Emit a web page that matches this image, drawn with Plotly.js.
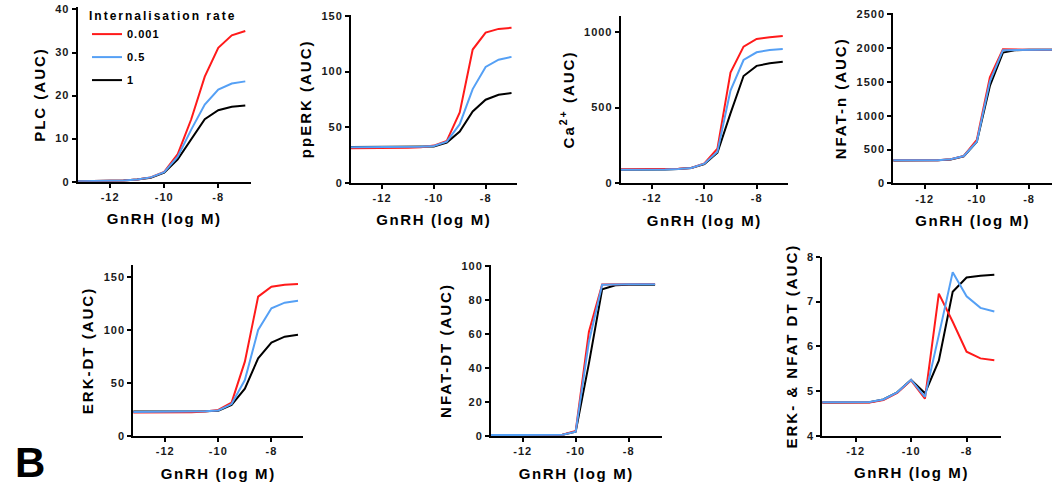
<!DOCTYPE html>
<html>
<head>
<meta charset="utf-8">
<script src="https://cdn.plot.ly/plotly-3.0.1.min.js"></script>
<style>
html,body{margin:0;padding:0;background:#fff;}
#chart{width:1052px;height:488px;}
text{letter-spacing:1px;}
text[class^="y"][class$="title"]{letter-spacing:2px;}
text[class^="x"][class$="title"]{letter-spacing:1.6px;}
text.legendtitletext{letter-spacing:2px;}
</style>
</head>
<body>
<div id="chart"></div>
<script>
// ---- data ----
const dose = [-13.5,-13,-12.5,-12,-11.5,-11,-10.5,-10,-9.5,-9,-8.5,-8,-7.5,-7];
const seriesNames = ['0.001','0.5','1'];
const seriesColors = ['#ff1a1a','#55a0f5','#000000'];
const xTickVals = [-12,-10,-8];
const xTickText = ['-12','-10','-8'];

const plc_0001 = [0.1,0.1,0.15,0.2,0.3,0.5,1.0,2.3,6.4,14.5,24.4,31.1,34.0,35.0];
const plc_05   = [0.1,0.1,0.15,0.2,0.3,0.5,1.0,2.2,5.8,12.1,17.9,21.4,22.8,23.3];
const plc_1    = [0.1,0.1,0.15,0.2,0.3,0.5,0.9,2.1,5.2,9.8,14.5,16.6,17.4,17.7];

const pperk_0001 = [31,31,31,31,31,31.5,32,33.4,37.7,63.3,119.9,135.2,138.5,139.5];
const pperk_05   = [32,32,32,32,32,32,32.3,33,37,52.7,84.3,104.2,110.8,113.3];
const pperk_1    = [32,32,32,32,32,32,32.2,32.5,36.1,46.1,64.2,74.7,79.2,80.7];

const ca_0001 = [90,90,90,90,91,94,100,130,228,732,905,956,967,976];
const ca_05   = [88,88,88,88,90,93,100,128,208,613,816,867,883,889];
const ca_1    = [88,88,88,88,90,93,99,125,201,462,710,777,794,805];

const nfatn_0001 = [340,340,340,340,342,355,404,641,1568,1982,1975,1975,1975,1975];
const nfatn_05   = [340,340,340,340,342,355,404,616,1504,1970,1975,1975,1975,1975];
const nfatn_1    = [338,338,338,338,340,352,400,616,1440,1933,1970,1975,1975,1975];

const erkdt_0001 = [22,22,22,22,22,22.3,23,24.5,31.4,70,131.2,140.6,142.5,143.1];
const erkdt_05   = [22.5,22.5,22.5,22.5,22.5,22.6,23.2,24,30.1,52.7,99.8,120.2,125.5,127.4];
const erkdt_1    = [23,23,23,23,23,23,23.3,23.8,29.2,44.6,73.1,87.9,93.5,95.4];

const nfatdt_0001 = [0.5,0.5,0.5,0.5,0.5,0.5,0.8,2.9,61.4,89.2,89.4,89.4,89.4,89.4];
const nfatdt_05   = [0.5,0.5,0.5,0.5,0.5,0.5,0.7,2.5,55.5,89.0,89.3,89.3,89.3,89.3];
const nfatdt_1    = [0.5,0.5,0.5,0.5,0.5,0.5,0.7,2.5,42.7,86.3,88.7,89.0,89.0,89.0];

const both_0001 = [4.74,4.74,4.74,4.74,4.745,4.80,4.96,5.24,4.83,7.18,6.55,5.88,5.73,5.69];
const both_05   = [4.75,4.75,4.75,4.75,4.755,4.81,4.97,5.25,4.87,6.25,7.66,7.12,6.86,6.78];
const both_1    = [4.74,4.74,4.74,4.74,4.75,4.81,4.97,5.25,4.95,5.68,7.22,7.54,7.58,7.60];

const yTitles = ['PLC (AUC)','ppERK (AUC)','Ca<sup>2+</sup> (AUC)','NFAT-n (AUC)','ERK-DT (AUC)','NFAT-DT (AUC)','ERK- & NFAT DT (AUC)'];
const xTitle = 'GnRH (log M)';
const legendTitle = 'Internalisation rate';
const panelLabel = 'B';

const panelData = [
  [plc_0001, plc_05, plc_1],
  [pperk_0001, pperk_05, pperk_1],
  [ca_0001, ca_05, ca_1],
  [nfatn_0001, nfatn_05, nfatn_1],
  [erkdt_0001, erkdt_05, erkdt_1],
  [nfatdt_0001, nfatdt_05, nfatdt_1],
  [both_0001, both_05, both_1]
];

// ---- layout (pixel geometry) ----
const W = 1052, H = 488;
const geom = [
  {x0:77.7, x1:250.7, y0:7.3,  y1:181.7, xr:[-13.2,-6.8],  yr:[0,40.5],  dt:10,  ys:6},
  {x0:351,  x1:516.7, y0:15,   y1:182.7, xr:[-13.2,-6.8],  yr:[0,151],   dt:50,  ys:6},
  {x0:620.7,x1:788,   y0:16,   y1:183,   xr:[-13.2,-6.8],  yr:[0,1108],  dt:500, ys:6},
  {x0:893.3,x1:1052,  y0:13.3, y1:183.3, xr:[-13.2,-7.12], yr:[0,2515],  dt:500, ys:6},
  {x0:133.3,x1:303.3, y0:265,  y1:436,   xr:[-13.2,-6.8],  yr:[0,161],   dt:50,  ys:6},
  {x0:491,  x1:661.7, y0:265,  y1:436,   xr:[-13.2,-6.75], yr:[0,100.6], dt:20,  ys:6},
  {x0:822.3,x1:1000.7,y0:256.5,y1:435.7, xr:[-13.2,-6.77], yr:[4,8.01],  dt:1,   ys:6}
];

const fontFam = '"Liberation Sans", Arial, sans-serif';
const tickFont = {family: fontFam, size: 11, color: '#1a1a1a', weight: 'bold'};
const titleFont = {family: fontFam, size: 15, color: '#000', weight: 'bold'};

const traces = [];
const drawOrder = [2, 0, 1]; // black, red, blue
panelData.forEach((ser, i) => {
  const sfx = i === 0 ? '' : String(i + 1);
  drawOrder.forEach(k => {
    traces.push({
      type: 'scatter', mode: 'lines',
      x: dose, y: ser[k],
      xaxis: 'x' + sfx, yaxis: 'y' + sfx,
      name: seriesNames[k],
      legendgroup: 'g' + k,
      legendrank: k + 1,
      showlegend: i === 0,
      line: {color: seriesColors[k], width: 2},
      hoverinfo: 'skip'
    });
  });
});

const layout = {
  width: W, height: H,
  margin: {l: 0, r: 0, t: 0, b: 0},
  paper_bgcolor: '#fff', plot_bgcolor: '#fff',
  showlegend: true,
  legend: {
    x: 87 / W, y: 1 - 4 / H, xanchor: 'left', yanchor: 'top',
    bgcolor: 'rgba(0,0,0,0)', borderwidth: 0,
    title: {text: legendTitle, font: {family: fontFam, size: 12, color: '#000', weight: 'bold'}},
    font: {family: fontFam, size: 11, color: '#000', weight: 'bold'},
    traceorder: 'grouped', tracegroupgap: 4, itemwidth: 30
  },
  annotations: [{
    text: panelLabel, xref: 'paper', yref: 'paper',
    x: 13 / W, y: 1 - 462 / H, xanchor: 'left', yanchor: 'middle',
    showarrow: false, font: {family: fontFam, size: 42, color: '#000', weight: 'bold'}
  }]
};

geom.forEach((g, i) => {
  const sfx = i === 0 ? '' : String(i + 1);
  layout['xaxis' + sfx] = {
    domain: [g.x0 / W, Math.min(1, g.x1 / W)],
    range: g.xr, anchor: 'y' + sfx,
    showline: true, linecolor: '#000', linewidth: 2,
    ticks: 'outside', ticklen: 4, tickwidth: 2, tickcolor: '#000',
    tickvals: xTickVals, ticktext: xTickText,
    showgrid: false, zeroline: false, tickfont: tickFont,
    title: {text: xTitle, font: titleFont, standoff: 12},
    automargin: false, fixedrange: true
  };
  layout['yaxis' + sfx] = {
    domain: [1 - g.y1 / H, 1 - g.y0 / H],
    range: g.yr, anchor: 'x' + sfx,
    showline: true, linecolor: '#000', linewidth: 2,
    ticks: 'outside', ticklen: 4, tickwidth: 2, tickcolor: '#000',
    dtick: g.dt, tick0: 0,
    showgrid: false, zeroline: false, tickfont: tickFont,
    title: {text: yTitles[i], font: titleFont, standoff: g.ys},
    automargin: false, fixedrange: true
  };
});

Plotly.newPlot('chart', traces, layout, {staticPlot: true, displayModeBar: false});
</script>
</body>
</html>
